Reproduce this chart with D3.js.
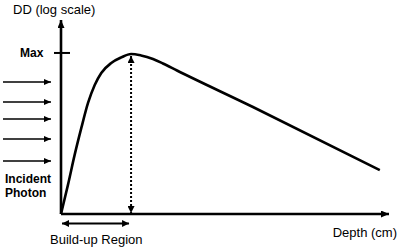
<!DOCTYPE html>
<html>
<head>
<meta charset="utf-8">
<script src="https://cdn.jsdelivr.net/npm/d3@7"></script>
<style>
  body { margin: 0; background: #fff; }
  svg { display: block; font-family: "Liberation Sans", Arial, sans-serif; }
</style>
</head>
<body>
<div class="box"></div>
<script>
// depth dose curve (depth in cm, relative dose in %)
var depth = [0, 0.53, 1.04, 1.55, 2.06, 2.57, 3.07, 3.83, 4.6, 5.34, 6.1, 7.01, 7.77, 8.84, 14.63, 24.3];
var dose = [10, 15.2, 23.4, 34.5, 49.4, 64.0, 76.1, 87.8, 95.2, 100, 97.9, 93.0, 87.2, 78.8, 46.6, 18.8];
var maxDose = 100;
var dMax = 5.34;
// incident photon rays, at these dose levels along the y axis
var rays = [66.8, 50.1, 39.2, 29.4, 21.4];

width = 400;
height = 248;

var x = d3.scaleLinear().domain([0, 25]).range([61, 389]);
var y = d3.scaleLog().domain([10, 163]).range([214, 20]);

const svg = d3.create("svg")
    .attr("width", width)
    .attr("height", height)
    .attr("viewBox", [0, 0, width, height]);

var defs = svg.append("defs");
function marker(id, w, h, auto) {
    defs.append("marker")
        .attr("id", id)
        .attr("markerUnits", "userSpaceOnUse")
        .attr("markerWidth", w)
        .attr("markerHeight", h)
        .attr("refX", w)
        .attr("refY", h / 2)
        .attr("orient", auto)
        .append("path")
        .attr("d", `M0,0L${w},${h / 2}L0,${h}Z`)
        .attr("fill", "#000");
}
marker("big", 8, 7, "auto");
marker("small", 7, 6, "auto");
marker("both", 7, 7, "auto-start-reverse");

// axes
svg.append("line")
    .attr("x1", x(0)).attr("y1", y(10))
    .attr("x2", x(0)).attr("y2", y(163))
    .attr("stroke", "#000").attr("stroke-width", 2.6)
    .attr("marker-end", "url(#big)");
svg.append("line")
    .attr("x1", x(0)).attr("y1", y(10))
    .attr("x2", x(25)).attr("y2", y(10))
    .attr("stroke", "#000").attr("stroke-width", 2.6)
    .attr("marker-end", "url(#big)");

// max tick
svg.append("line")
    .attr("x1", x(0) - 7).attr("x2", x(0) + 9)
    .attr("y1", y(maxDose) - 1).attr("y2", y(maxDose) - 1)
    .attr("stroke", "#000").attr("stroke-width", 2);
svg.append("text")
    .attr("x", 20).attr("y", y(maxDose) + 3)
    .attr("font-size", 12).attr("font-weight", "bold")
    .text("Max");

// incident photons
svg.append("g")
    .selectAll("line")
    .data(rays)
    .join("line")
    .attr("x1", 3).attr("x2", x(0) - 10)
    .attr("y1", d => y(d)).attr("y2", d => y(d))
    .attr("stroke", "#000").attr("stroke-width", 1.5)
    .attr("marker-end", "url(#small)");

// depth dose curve
var pts = depth.map((d, i) => [d, dose[i]]);
svg.append("path")
    .attr("fill", "none")
    .attr("stroke", "#000")
    .attr("stroke-width", 2.6)
    .attr("stroke-linejoin", "round")
    .attr("d", d3.line()
        .x(d => x(d[0]))
        .y(d => y(d[1]))
        .curve(d3.curveMonotoneX)(pts));

// dotted line at dmax
svg.append("line")
    .attr("x1", x(dMax)).attr("x2", x(dMax))
    .attr("y1", y(maxDose) + 2).attr("y2", y(10) - 1)
    .attr("stroke", "#000").attr("stroke-width", 2)
    .attr("stroke-dasharray", "2,2")
    .attr("marker-start", "url(#both)")
    .attr("marker-end", "url(#both)");

// build-up region arrow
svg.append("line")
    .attr("x1", x(0) + 1).attr("x2", x(dMax) - 2)
    .attr("y1", 223.5).attr("y2", 223.5)
    .attr("stroke", "#000").attr("stroke-width", 2)
    .attr("marker-start", "url(#both)")
    .attr("marker-end", "url(#both)");

// labels
svg.append("text").attr("x", 13).attr("y", 13.5)
    .attr("font-size", 13).text("DD (log scale)");
svg.append("text").attr("x", 5).attr("y", 183)
    .attr("font-size", 12).attr("font-weight", "bold").text("Incident");
svg.append("text").attr("x", 5).attr("y", 197)
    .attr("font-size", 12).attr("font-weight", "bold").text("Photon");
svg.append("text").attr("x", 50).attr("y", 243.5)
    .attr("font-size", 13).text("Build-up Region");
svg.append("text").attr("x", 397).attr("y", 236.5)
    .attr("text-anchor", "end")
    .attr("font-size", 13).text("Depth (cm)");

document.querySelector(".box").appendChild(svg.node());
</script>
</body>
</html>
